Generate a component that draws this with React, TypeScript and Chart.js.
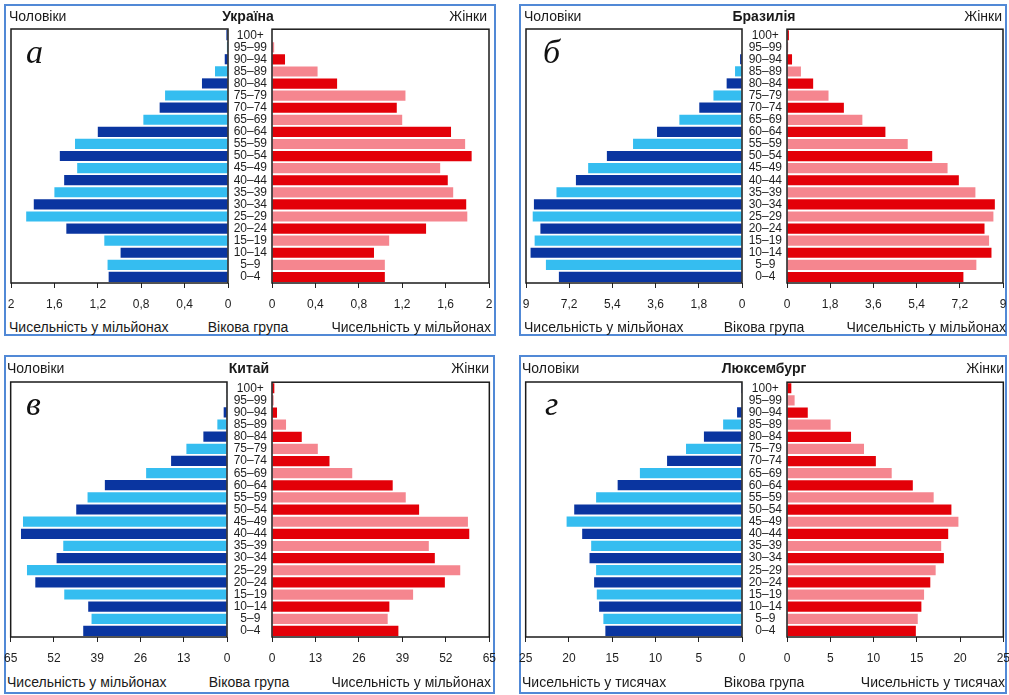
import React, { useEffect, useRef } from "react";
import { Chart, registerables } from "chart.js";

Chart.register(...registerables);

// ---------- DATA ----------
const AGE_GROUPS = [
  "100+", "95–99", "90–94", "85–89", "80–84", "75–79", "70–74", "65–69", "60–64", "55–59",
  "50–54", "45–49", "40–44", "35–39", "30–34", "25–29", "20–24", "15–19", "10–14", "5–9", "0–4",
];

const UKRAINE_MEN = [0.015, 0.01, 0.03, 0.12, 0.24, 0.58, 0.63, 0.78, 1.2, 1.41, 1.55, 1.39, 1.51, 1.6, 1.79, 1.86, 1.49, 1.14, 0.99, 1.11, 1.1];
const UKRAINE_WOMEN = [0, 0.02, 0.12, 0.42, 0.6, 1.23, 1.15, 1.2, 1.65, 1.78, 1.84, 1.55, 1.62, 1.67, 1.79, 1.8, 1.42, 1.08, 0.94, 1.04, 1.04];
const UKRAINE_TICKS = ["0", "0,4", "0,8", "1,2", "1,6", "2"];

const BRAZIL_MEN = [0, 0.02, 0.08, 0.29, 0.64, 1.19, 1.78, 2.61, 3.54, 4.54, 5.63, 6.41, 6.92, 7.73, 8.67, 8.72, 8.4, 8.64, 8.81, 8.17, 7.63];
const BRAZIL_WOMEN = [0.08, 0.05, 0.21, 0.58, 1.09, 1.73, 2.37, 3.14, 4.1, 5.03, 6.05, 6.69, 7.16, 7.85, 8.66, 8.6, 8.23, 8.42, 8.52, 7.89, 7.35];
const BRAZIL_TICKS = ["0", "1,8", "3,6", "5,4", "7,2", "9"];

const CHINA_MEN = [0.2, 0.1, 1.0, 2.9, 7.1, 12.2, 16.8, 24.3, 36.7, 41.9, 45.3, 61.3, 61.9, 49.2, 51.2, 60.1, 57.6, 48.9, 41.7, 40.7, 43.2];
const CHINA_WOMEN = [0.7, 0.5, 1.5, 4.2, 8.9, 13.7, 17.2, 24.0, 36.1, 40.0, 44.0, 58.6, 59.0, 46.9, 48.7, 56.3, 51.7, 42.2, 35.1, 34.6, 37.8];
const CHINA_TICKS = ["0", "13", "26", "39", "52", "65"];

const LUX_MEN = [0.1, 0.05, 0.57, 2.18, 4.4, 6.47, 8.66, 11.8, 14.37, 16.86, 19.39, 20.27, 18.47, 17.43, 17.62, 16.86, 17.09, 16.78, 16.51, 16.02, 15.79];
const LUX_WOMEN = [0.5, 0.88, 2.4, 5.04, 7.4, 8.9, 10.27, 12.1, 14.54, 16.95, 19.0, 19.81, 18.63, 17.82, 18.13, 17.18, 16.56, 15.84, 15.53, 15.11, 14.89];
const LUX_TICKS = ["0", "5", "10", "15", "20", "25"];

const MEN_LABEL = "Чоловіки";
const WOMEN_LABEL = "Жінки";
const AGE_LABEL = "Вікова група";
const MILLIONS_LABEL = "Чисельність у мільйонах";
const THOUSANDS_LABEL = "Чисельність у тисячах";

// ---------- STYLE ----------
const DARK_BLUE = "#0a35a0";
const LIGHT_BLUE = "#35bdf0";
const RED = "#e30008";
const PINK = "#f5868f";
const PANEL_BORDER = "#5189d6";
const SANS = "'Liberation Sans', Arial, Helvetica, sans-serif";
const AXIS_H = 34;
const PAD_TOP = 12;

const framePlugin = {
  id: "frame",
  afterDatasetsDraw(chart: any) {
    const { ctx, chartArea: a } = chart;
    ctx.save();
    ctx.strokeStyle = "#1a1a1a";
    ctx.lineWidth = 1.5;
    ctx.strokeRect(a.left, a.top, a.right - a.left, a.bottom - a.top);
    ctx.restore();
  },
};

type SideProps = {
  men: boolean;
  values: number[];
  max: number;
  step: number;
  ticks: string[];
  left: number;
  top: number;
  width: number;
  height: number;
  padL: number;
  padR: number;
  axisW: number;
};

function SideChart(p: SideProps) {
  const ref = useRef<HTMLCanvasElement>(null);
  useEffect(() => {
    const colors = p.values.map((_, i) =>
      p.men ? (i % 2 === 0 ? DARK_BLUE : LIGHT_BLUE) : i % 2 === 0 ? RED : PINK
    );
    const font = { family: SANS, size: 12 };
    const yScale: any = p.men
      ? { display: false, grid: { display: false } }
      : {
          position: "left",
          afterFit: (s: any) => {
            s.width = p.axisW;
          },
          grid: { display: false, drawTicks: false },
          border: { display: false },
          ticks: { crossAlign: "center", padding: 5, autoSkip: false, color: "#1e1e1e", font },
        };
    const chart = new Chart(ref.current as HTMLCanvasElement, {
      type: "bar",
      data: {
        labels: AGE_GROUPS,
        datasets: [
          {
            data: p.values,
            backgroundColor: colors,
            borderWidth: 0,
            barPercentage: 0.84,
            categoryPercentage: 1,
          },
        ],
      },
      options: {
        animation: false,
        responsive: false,
        maintainAspectRatio: false,
        indexAxis: "y",
        layout: { padding: { left: p.padL, right: p.padR, top: PAD_TOP, bottom: 0 } },
        plugins: { legend: { display: false }, tooltip: { enabled: false } },
        scales: {
          x: {
            type: "linear",
            min: 0,
            max: p.max,
            reverse: p.men,
            afterFit: (s: any) => {
              s.height = AXIS_H;
            },
            grid: { display: true, drawOnChartArea: false, drawTicks: true, tickLength: 5, color: "#222", lineWidth: 1 },
            border: { display: false },
            ticks: {
              stepSize: p.step,
              autoSkip: false,
              maxRotation: 0,
              padding: 9,
              color: "#1e1e1e",
              font,
              callback: (v: any) => p.ticks[Math.round(Number(v) / p.step)] ?? "",
            },
          },
          y: yScale,
        },
      } as any,
      plugins: [framePlugin],
    });
    return () => chart.destroy();
  }, []);
  return (
    <canvas
      ref={ref}
      width={p.width}
      height={p.height}
      style={{ position: "absolute", left: p.left, top: p.top, width: p.width, height: p.height }}
    />
  );
}

type PanelProps = {
  box: { left: number; top: number; width: number; height: number };
  mL: number;
  mR: number;
  wL: number;
  wR: number;
  plotTop: number;
  plotBottom: number;
  textLeft: number;
  textCenter: number;
  womenRight: number;
  bottomRight: number;
  headY: number;
  footY: number;
  letter: string;
  letterX: number;
  letterBase: number;
  title: string;
  unitLabel: string;
  men: number[];
  women: number[];
  max: number;
  step: number;
  ticks: string[];
};

function Txt(props: { x: number; y: number; align: "left" | "center" | "right"; bold?: boolean; children: any }) {
  const tx = props.align === "left" ? "0" : props.align === "center" ? "-50%" : "-100%";
  return (
    <div
      style={{
        position: "absolute",
        left: props.x,
        top: props.y,
        transform: `translate(${tx}, -50%)`,
        fontFamily: SANS,
        fontSize: 14,
        fontWeight: props.bold ? "bold" : "normal",
        lineHeight: 1,
        whiteSpace: "nowrap",
        color: "#1a1a1a",
        zIndex: 2,
      }}
    >
      {props.children}
    </div>
  );
}

function Panel(p: PanelProps) {
  const PAD = 14;
  const plotH = p.plotBottom - p.plotTop;
  const canvasTop = p.plotTop - PAD_TOP;
  const canvasH = plotH + PAD_TOP + AXIS_H;
  return (
    <>
      <div
        style={{
          position: "absolute",
          left: p.box.left,
          top: p.box.top,
          width: p.box.width,
          height: p.box.height,
          border: `2px solid ${PANEL_BORDER}`,
          boxSizing: "border-box",
        }}
      />
      <SideChart
        men={true}
        values={p.men}
        max={p.max}
        step={p.step}
        ticks={p.ticks}
        left={p.mL - PAD}
        top={canvasTop}
        width={p.mR - p.mL + 2 * PAD}
        height={canvasH}
        padL={PAD}
        padR={PAD}
        axisW={0}
      />
      <SideChart
        men={false}
        values={p.women}
        max={p.max}
        step={p.step}
        ticks={p.ticks}
        left={p.mR}
        top={canvasTop}
        width={p.wR - p.mR + PAD}
        height={canvasH}
        padL={0}
        padR={PAD}
        axisW={p.wL - p.mR}
      />
      <Txt x={p.textLeft} y={p.headY} align="left">{MEN_LABEL}</Txt>
      <Txt x={p.textCenter} y={p.headY} align="center" bold>{p.title}</Txt>
      <Txt x={p.womenRight} y={p.headY} align="right">{WOMEN_LABEL}</Txt>
      <Txt x={p.textLeft} y={p.footY} align="left">{p.unitLabel}</Txt>
      <Txt x={p.textCenter} y={p.footY} align="center">{AGE_LABEL}</Txt>
      <Txt x={p.bottomRight} y={p.footY} align="right">{p.unitLabel}</Txt>
      <div
        style={{
          position: "absolute",
          left: p.letterX,
          top: p.letterBase - 28,
          fontFamily: "'Liberation Serif', 'DejaVu Serif', serif",
          fontStyle: "italic",
          fontSize: 34,
          lineHeight: "34px",
          color: "#111",
          zIndex: 2,
        }}
      >
        {p.letter}
      </div>
    </>
  );
}

export default function App() {
  return (
    <div style={{ position: "absolute", left: 0, top: 0, width: 1009, height: 695, background: "#fff", overflow: "hidden" }}>
      <Panel
        box={{ left: 4, top: 4, width: 492, height: 332 }}
        mL={11} mR={228} wL={272} wR={489} plotTop={29} plotBottom={283}
        textLeft={9} textCenter={248} womenRight={487} bottomRight={491}
        headY={16} footY={327}
        letter="а" letterX={26} letterBase={63}
        title="Україна" unitLabel={MILLIONS_LABEL}
        men={UKRAINE_MEN} women={UKRAINE_WOMEN} max={2} step={0.4} ticks={UKRAINE_TICKS}
      />
      <Panel
        box={{ left: 519, top: 4, width: 488, height: 332 }}
        mL={526} mR={742} wL={787} wR={1003} plotTop={29} plotBottom={283}
        textLeft={524} textCenter={764} womenRight={1002} bottomRight={1006}
        headY={16} footY={327}
        letter="б" letterX={543} letterBase={63}
        title="Бразилія" unitLabel={MILLIONS_LABEL}
        men={BRAZIL_MEN} women={BRAZIL_WOMEN} max={9} step={1.8} ticks={BRAZIL_TICKS}
      />
      <Panel
        box={{ left: 4, top: 355, width: 491, height: 339 }}
        mL={9} mR={227} wL={272} wR={491} plotTop={382} plotBottom={637}
        textLeft={7} textCenter={249} womenRight={489} bottomRight={491}
        headY={368} footY={682}
        letter="в" letterX={26} letterBase={415}
        title="Китай" unitLabel={MILLIONS_LABEL}
        men={CHINA_MEN} women={CHINA_WOMEN} max={65} step={13} ticks={CHINA_TICKS}
      />
      <Panel
        box={{ left: 519, top: 355, width: 488, height: 339 }}
        mL={524} mR={742} wL={787} wR={1005} plotTop={382} plotBottom={637}
        textLeft={522} textCenter={764} womenRight={1004} bottomRight={1005}
        headY={368} footY={682}
        letter="г" letterX={545} letterBase={415}
        title="Люксембург" unitLabel={THOUSANDS_LABEL}
        men={LUX_MEN} women={LUX_WOMEN} max={25} step={5} ticks={LUX_TICKS}
      />
    </div>
  );
}
